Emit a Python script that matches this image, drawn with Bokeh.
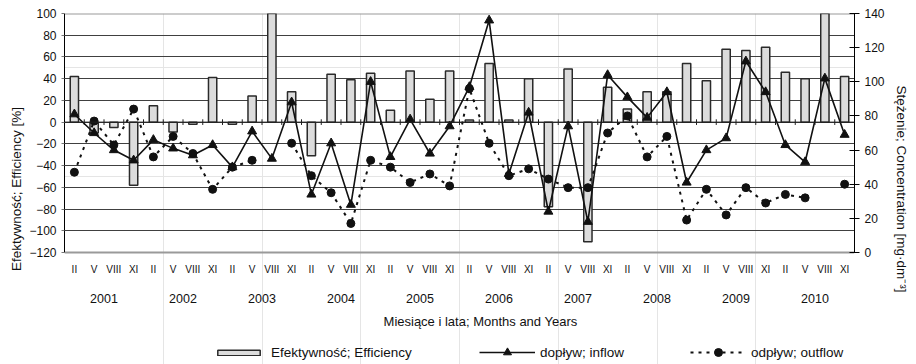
import numpy as np
from bokeh.plotting import figure
from bokeh.models import (Range1d, LinearAxis, FixedTicker, Span, Legend, Title,
                          LegendItem, ColumnDataSource, Grid)
from bokeh.core.properties import value
from bokeh.embed import file_html
from bokeh.resources import INLINE

# ---------------- data ----------------
years = ["2001", "2002", "2003", "2004", "2005", "2006", "2007", "2008", "2009", "2010"]
months = ["II", "V", "VIII", "XI"]

# Efektywność; Efficiency [%]  (left axis)
efficiency = [42, -10, -5, -58,
              15, -9, -2, 41,
              -2, 24, 100, 28,
              -31, 44, 39, 45,
              11, 47, 21, 47,
              2, 54, 2, 40,
              -78, 49, -110, 32,
              12, 28, 28, 54,
              38, 67, 66, 69,
              46, 40, 100, 42]

# dopływ; inflow [mg/dm3]  (right axis)
inflow = [81, 70, 60, 54,
          66, 61, 57, 63,
          50, 71, 55, 88,
          34, 64, 28, 100,
          56, 78, 58, 74,
          97, 136, 46, 82,
          24, 74, 18, 104,
          91, 79, 94, 41,
          60, 67, 112, 94,
          63, 53, 102, 69]

# odpływ; outflow [mg/dm3]  (right axis), None = no measurement
outflow = [47, 77, 63, 84,
           56, 68, 58, 37,
           50, 54, None, 64,
           45, 35, 17, 54,
           50, 41, 46, 39,
           96, 64, 45, 49,
           43, 38, 38, 70,
           80, 56, 68, 19,
           37, 22, 38, 29,
           34, 32, None, 40]

FONT = "Liberation Sans"
TXT = "#111111"

n = len(years) * len(months)
xs = [i + 0.5 for i in range(n)]
month_labels = [m for _ in years for m in months]
year_pos = [len(months) * j + len(months) / 2 for j in range(len(years))]

# ---------------- geometry ----------------
Y_MIN, Y_MAX = -120, 100          # efficiency axis
C_MIN, C_MAX = 0, 140             # concentration axis
PLOT_W, PLOT_H = 790, 239         # chart area in px
EXTRA = 112                       # px below the chart area (category labels, title, legend)
unit_px = PLOT_H / (Y_MAX - Y_MIN)
x_px = PLOT_W / n


def below(px):
    """data y (left scale) that lies px pixels under the bottom of the chart area"""
    return Y_MIN - px / unit_px


src = ColumnDataSource(dict(
    x=xs,
    eff=np.array(efficiency, dtype=float),
    inflow=np.array(inflow, dtype=float),
    outflow=np.array([np.nan if v is None else v for v in outflow], dtype=float),
))

p = figure(frame_width=PLOT_W, frame_height=PLOT_H + EXTRA,
           x_range=Range1d(0, n), y_range=Range1d(below(EXTRA), Y_MAX),
           output_backend="svg", toolbar_location=None,
           x_axis_location=None, y_axis_location=None,
           min_border_left=64, min_border_right=62, min_border_top=13, min_border_bottom=0)
p.outline_line_color = None
p.background_fill_color = "white"
p.border_fill_color = "white"
p.extra_y_ranges = {"conc": Range1d(C_MIN - EXTRA * (C_MAX - C_MIN) / PLOT_H, C_MAX)}

panel_center_shift = EXTRA / 2 + 16   # titles centred a little above the chart middle


def title(text, offset, size, standoff):
    t = Title(text=text, align="center", offset=offset)
    t.text_font = FONT
    t.text_font_size = size
    t.text_font_style = "normal"
    t.text_color = TXT
    if "standoff" in t.properties():
        t.standoff = standoff
    return t


# ---------------- axes ----------------
left_ticks = list(range(Y_MIN, Y_MAX + 1, 20))
ax_l = LinearAxis(ticker=FixedTicker(ticks=left_ticks), bounds=(Y_MIN, Y_MAX))
ax_l.axis_line_color = "black"
ax_l.major_tick_in = 0
ax_l.major_tick_out = 3
ax_l.major_tick_line_color = "#777777"
ax_l.minor_tick_line_color = None
ax_l.major_label_standoff = 5
ax_l.major_label_text_font = FONT
ax_l.major_label_text_font_size = "12px"
ax_l.major_label_text_color = TXT
p.add_layout(ax_l, "left")
p.add_layout(title("Efektywność; Efficiency [%]", panel_center_shift, "13.5px", 5), "left")

ax_r = LinearAxis(y_range_name="conc", ticker=FixedTicker(ticks=list(range(C_MIN, C_MAX + 1, 20))),
                  bounds=(C_MIN, C_MAX))
ax_r.axis_line_color = "black"
ax_r.major_tick_in = 5
ax_r.major_tick_out = 5
ax_r.major_tick_line_color = "black"
ax_r.minor_tick_line_color = None
ax_r.major_label_standoff = 5
ax_r.major_label_text_font = FONT
ax_r.major_label_text_font_size = "12px"
ax_r.major_label_text_color = TXT
p.add_layout(ax_r, "right")
p.add_layout(title("Stężenie; Concentration [mg·dm⁻³]", -panel_center_shift, "13.5px", 12), "right")

# grid
grid = Grid(dimension=1, ticker=FixedTicker(ticks=left_ticks[1:-1]),
            grid_line_color="#404040", grid_line_width=1)
p.add_layout(grid)
for loc in (Y_MIN, Y_MAX):
    p.add_layout(Span(location=loc, dimension="width", line_color="#9a9a9a",
                      line_width=2, level="underlay"))

# ---------------- category labels (month, year) and x title ----------------
p.text(x=xs, y=[below(17)] * n, text=month_labels, text_align="center",
       text_baseline="middle", text_font=value(FONT), text_font_size=value("10px"),
       text_color=TXT)
p.text(x=year_pos, y=[below(46)] * len(years), text=years, text_align="center",
       text_baseline="middle", text_font=value(FONT), text_font_size=value("12.5px"),
       text_color=TXT)
p.text(x=[n / 2 + 21 / x_px], y=[below(69)], text=["Miesiące i lata; Months and Years"],
       text_align="center", text_baseline="middle", text_font=value(FONT),
       text_font_size=value("13px"), text_color=TXT)

# ---------------- glyphs ----------------
bars = p.vbar(x="x", top="eff", bottom=0, width=0.42, source=src,
              fill_color="#dcdcdc", line_color="#2a2a2a", line_width=1.5)

# category axis at zero with boundary ticks
p.add_layout(Span(location=0, dimension="width", line_color="#202020", line_width=1))
bnd = list(range(1, n))
p.segment(x0=bnd, x1=bnd, y0=[-2.6] * len(bnd), y1=[2.6] * len(bnd),
          line_color="#202020", line_width=1)

l_in = p.line("x", "inflow", source=src, y_range_name="conc",
              line_color="#111111", line_width=1.6)
s_in = p.scatter("x", "inflow", source=src, y_range_name="conc", marker="triangle",
                 size=9, fill_color="#111111", line_color="#111111")
l_out = p.line("x", "outflow", source=src, y_range_name="conc",
               line_color="#111111", line_width=2, line_dash="3 5")
s_out = p.scatter("x", "outflow", source=src, y_range_name="conc", marker="circle",
                  size=8, fill_color="#111111", line_color="#111111")

# ---------------- legends (inside the frame's lower strip) ----------------
leg1 = Legend(items=[LegendItem(label="Efektywność; Efficiency", renderers=[bars])],
              location=(148, 4), orientation="horizontal",
              glyph_width=53, glyph_height=7, label_height=7, label_standoff=6,
              padding=0, margin=0, border_line_color=None, background_fill_alpha=0,
              label_text_font=FONT, label_text_font_size="13.5px", label_text_color=TXT)
p.add_layout(leg1)

leg2 = Legend(items=[LegendItem(label="dopływ; inflow", renderers=[l_in, s_in]),
                     LegendItem(label="odpływ; outflow", renderers=[l_out, s_out])],
              location=(415, 2), orientation="horizontal",
              glyph_width=56, glyph_height=20, label_height=7, label_standoff=5,
              spacing=66, padding=0, margin=0, border_line_color=None,
              background_fill_alpha=0,
              label_text_font=FONT, label_text_font_size="13.5px", label_text_color=TXT)
p.add_layout(leg2)

open("out.html", "w").write(file_html(p, INLINE))
